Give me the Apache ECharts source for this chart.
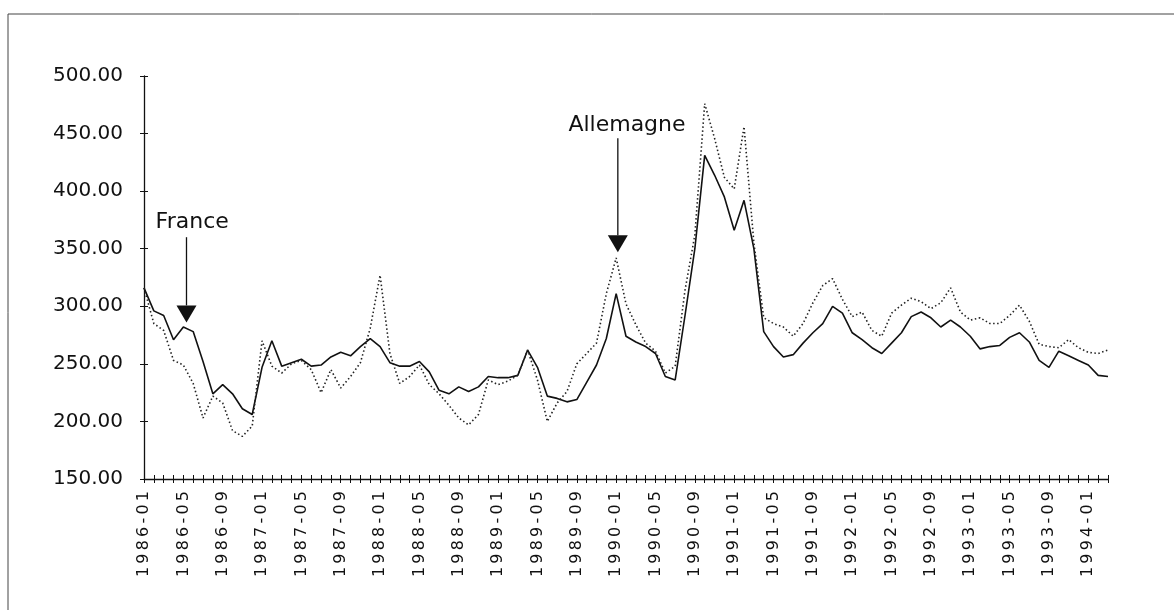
<!DOCTYPE html>
<html>
<head>
<meta charset="utf-8">
<script src="https://cdn.jsdelivr.net/npm/echarts@6/dist/echarts.min.js"></script>
<style>
  html, body { margin: 0; padding: 0; background: #fff; }
  #chart { width: 1174px; height: 610px; }
</style>
</head>
<body>
<div id="chart"></div>
<script>
// monthly categories 1986-01 .. 1994-03
const months = [];
for (let y = 1986; y <= 1994; y++) {
  for (let m = 1; m <= 12; m++) {
    if (y === 1994 && m > 3) break;
    months.push(y + '-' + String(m).padStart(2, '0'));
  }
}

// solid line
const france = [
  316, 296, 292, 271, 282, 278, 252, 224, 232, 224, 211, 206,
  247, 270, 248, 251, 254, 248, 249, 256, 260, 257, 265, 272,
  265, 251, 248, 248, 252, 243, 227, 224, 230, 226, 230, 239,
  238, 238, 240, 262, 247, 222, 220, 217, 219, 234, 249, 272,
  311, 274, 269, 265, 259, 239, 236, 292, 350, 431, 414, 395,
  366, 392, 350, 278, 265, 256, 258, 268, 277, 285, 300, 294,
  277, 271, 264, 259, 268, 277, 291, 295, 290, 282, 288, 282,
  274, 263, 265, 266, 273, 277, 269, 253, 247, 261, 257, 253,
  249, 240, 239
];

// dotted line
const allemagne = [
  316, 285, 279, 253, 249, 233, 203, 222, 216, 192, 187, 196,
  270, 248, 242, 250, 253, 245, 225, 245, 229, 239, 251, 281,
  327, 259, 233, 239, 249, 232, 224, 214, 203, 197, 206, 236,
  232, 235, 240, 262, 236, 200, 216, 226, 250, 259, 268, 311,
  342, 302, 284, 268, 261, 242, 248, 314, 362, 476, 446, 412,
  402, 456, 355, 290, 285, 282, 274, 285, 303, 318, 324, 306,
  291, 295, 279, 274, 294, 301, 307, 304, 298, 303, 316, 295,
  288, 290, 285, 285, 292, 301, 287, 267, 265, 264, 271, 264,
  260, 259, 262
];

const yMin = 150, yMax = 500, yStep = 50;

// arrow annotations: month index (fractional), value for text, line top, tip
const notes = [
  { text: 'France', textAt: [4.9, 373], lineTop: [4.32, 360], tip: [4.32, 286] },
  { text: 'Allemagne', textAt: [49.1, 457], lineTop: [48.17, 446], tip: [48.17, 347] }
];

const ink = '#111';
const chart = echarts.init(document.getElementById('chart'));

chart.setOption({
  animation: false,
  grid: { left: 144, right: 66, top: 76, bottom: 131 },
  xAxis: [
    {
      type: 'category',
      data: months,
      boundaryGap: false,
      axisLine: { lineStyle: { color: ink, width: 1.3 } },
      axisTick: { show: true, interval: 0, length: 4, lineStyle: { color: ink } },
      axisLabel: {
        interval: 3, rotate: 90, margin: 12,
        // the original labels are widely spaced
        formatter: v => v.split('').join('\u2009'),
        fontFamily: 'DejaVu Sans', fontSize: 16, color: ink
      },
      splitLine: { show: false }
    },
    {
      type: 'category',
      data: months,
      boundaryGap: false,
      position: 'bottom',
      axisLine: { show: false },
      axisTick: { show: true, inside: true, interval: 0, length: 4, lineStyle: { color: ink } },
      axisLabel: { show: false },
      splitLine: { show: false }
    }
  ],
  yAxis: [
    {
      type: 'value',
      min: yMin, max: yMax, interval: yStep,
      axisLine: { show: true, lineStyle: { color: ink, width: 1.3 } },
      axisTick: { show: true, length: 4, lineStyle: { color: ink } },
      axisLabel: {
        formatter: v => v.toFixed(2),
        margin: 21,
        fontFamily: 'DejaVu Sans', fontSize: 20, color: ink
      },
      splitLine: { show: false }
    },
    {
      type: 'value',
      min: yMin, max: yMax, interval: yStep,
      position: 'left',
      axisLine: { show: false },
      axisTick: { show: true, inside: true, length: 4, lineStyle: { color: ink } },
      axisLabel: { show: false },
      splitLine: { show: false }
    }
  ],
  series: [
    {
      name: 'France',
      type: 'line',
      data: france,
      symbol: 'none',
      lineStyle: { color: ink, width: 1.6 }
    },
    {
      name: 'Allemagne',
      type: 'line',
      data: allemagne,
      symbol: 'none',
      lineStyle: { color: '#222', width: 1.6, type: [1.5, 2.5] }
    }
  ]
});

// pixel of a (possibly fractional) month index and a value
function at(idx, val) {
  const i0 = Math.floor(idx), f = idx - i0;
  const p0 = chart.convertToPixel({ xAxisIndex: 0, yAxisIndex: 0 }, [i0, val]);
  const p1 = chart.convertToPixel({ xAxisIndex: 0, yAxisIndex: 0 }, [i0 + 1, val]);
  return [p0[0] + (p1[0] - p0[0]) * f, p0[1]];
}

const graphics = [
  {
    type: 'rect', z: -1,
    shape: { x: 8, y: 14, width: 1200, height: 700 },
    style: { fill: 'none', stroke: '#444', lineWidth: 1 }
  }
];

notes.forEach(n => {
  const t = at(n.textAt[0], n.textAt[1]);
  const top = at(n.lineTop[0], n.lineTop[1]);
  const tip = at(n.tip[0], n.tip[1]);
  const headH = 17, headW = 10;
  graphics.push({
    type: 'text', x: t[0], y: t[1],
    style: {
      text: n.text, fill: ink,
      font: '22px "DejaVu Sans"',
      align: 'center', verticalAlign: 'middle',
      textAlign: 'center', textVerticalAlign: 'middle'
    }
  });
  graphics.push({
    type: 'line',
    shape: { x1: top[0], y1: top[1], x2: tip[0], y2: tip[1] - headH },
    style: { stroke: ink, lineWidth: 1.3 }
  });
  graphics.push({
    type: 'polygon',
    shape: { points: [[tip[0] - headW, tip[1] - headH], [tip[0] + headW, tip[1] - headH], [tip[0], tip[1]]] },
    style: { fill: ink }
  });
});

chart.setOption({ graphic: graphics });
</script>
</body>
</html>
